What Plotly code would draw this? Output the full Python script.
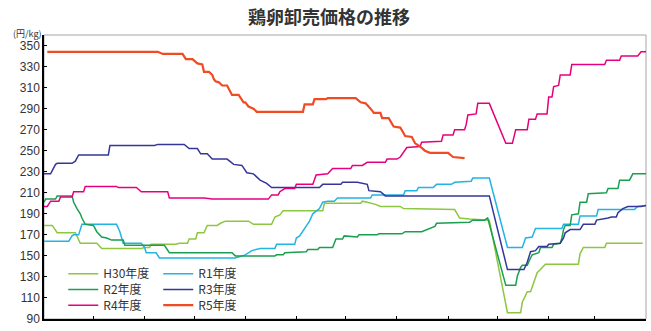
import plotly.graph_objects as go
import numpy as np

title_text = "鶏卵卸売価格の推移"
unit_text = "(円/kg)"
series_names = ["H30年度", "R1年度", "R2年度", "R3年度", "R4年度", "R5年度"]
month_days = [30, 31, 30, 31, 31, 30, 31, 31, 30, 31, 28, 31]  # April .. March
y_ticks = list(range(90, 351, 20))

# day of fiscal year (0 = April 1) / price (yen per kg)
h30_day = [0, 5, 8, 19, 22, 32, 35, 59, 61, 64, 65, 80, 82, 87, 88, 92, 93, 97, 99, 105,
           107, 110, 124, 127, 138, 140, 143, 145, 169, 170, 192, 193, 196, 201, 204, 216, 218, 249, 252, 258,
           270, 281, 289, 290, 293, 295, 297, 299, 301, 304, 324, 325, 327, 340, 341, 363]
h30_yen = [179, 179, 172, 172, 162, 162, 157, 157, 158, 158, 161, 161, 162, 162, 166, 166, 172, 172, 179, 179,
           181, 183, 183, 180, 180, 187, 189, 193, 193, 200, 200, 202, 201, 199, 197, 197, 195, 194, 186, 185,
           184, 96, 96, 106, 116, 116, 125, 134, 137, 142, 142, 152, 158, 158, 162, 162]

r1_day = [0, 15, 17, 18, 21, 23, 44, 46, 48, 59, 61, 62, 68, 70, 116, 118, 122, 126, 129, 131,
          140, 141, 152, 153, 155, 158, 161, 163, 167, 169, 172, 176, 178, 198, 199, 218, 219, 226, 227, 236,
          238, 247, 249, 259, 260, 270, 281, 290, 292, 296, 298, 314, 315, 324, 325, 335, 336, 358, 360, 365]
r1_yen = [164, 164, 169, 170, 170, 180, 180, 173, 162, 162, 158, 153, 153, 148, 148, 149, 151, 155, 156, 157,
          157, 161, 161, 167, 169, 176, 183, 190, 195, 201, 202, 202, 205, 205, 208, 208, 212, 212, 215, 215,
          218, 218, 220, 221, 224, 224, 158, 158, 167, 168, 176, 176, 180, 180, 188, 188, 194, 194, 197, 198]

r2_day = [0, 1, 7, 8, 17, 18, 20, 22, 23, 25, 30, 32, 35, 38, 41, 48, 49, 73, 76, 114,
          116, 140, 141, 145, 146, 159, 160, 166, 167, 175, 177, 181, 182, 190, 191, 202, 203, 217, 219, 229,
          237, 238, 258, 260, 267, 269, 280, 286, 287, 289, 290, 293, 295, 296, 300, 301, 308, 309, 313, 314,
          315, 316, 319, 320, 324, 325, 329, 330, 341, 342, 348, 349, 355, 357, 365]
r2_yen = [201, 204, 204, 207, 207, 201, 195, 190, 186, 180, 179, 173, 168, 167, 165, 165, 160, 160, 153, 153,
          150, 150, 151, 151, 153, 154, 156, 156, 158, 158, 166, 166, 169, 168, 170, 170, 171, 171, 173, 173,
          178, 181, 182, 184, 184, 186, 122, 122, 131, 139, 141, 141, 148, 151, 153, 158, 158, 161, 162, 167,
          175, 179, 179, 189, 190, 201, 201, 209, 210, 214, 214, 222, 222, 228, 228]

r3_day = [0, 4, 5, 7, 8, 17, 19, 21, 39, 40, 67, 69, 85, 88, 93, 95, 99, 102, 111, 115,
          120, 123, 127, 131, 135, 138, 167, 169, 180, 181, 190, 196, 197, 204, 207, 270, 281, 291, 293, 295,
          298, 300, 305, 306, 313, 315, 316, 319, 325, 327, 334, 335, 342, 344, 347, 348, 351, 354, 362, 365]
r3_yen = [228, 228, 231, 237, 238, 238, 240, 246, 246, 255, 255, 256, 256, 252, 252, 247, 247, 242, 242, 237,
          236, 229, 228, 222, 219, 215, 215, 218, 218, 220, 220, 218, 212, 211, 207, 207, 137, 137, 144, 154,
          155, 159, 159, 161, 162, 167, 172, 175, 175, 180, 180, 184, 186, 187, 187, 191, 195, 197, 197, 198]

r4_day = [0, 2, 4, 9, 10, 17, 18, 24, 25, 44, 45, 56, 59, 75, 76, 97, 102, 136, 138, 142,
          143, 145, 146, 152, 153, 163, 165, 172, 175, 186, 187, 193, 196, 207, 208, 214, 216, 220, 228, 229,
          241, 242, 248, 249, 255, 256, 257, 262, 263, 270, 280, 284, 286, 293, 294, 298, 299, 305, 306, 308,
          309, 312, 313, 319, 320, 340, 341, 349, 350, 360, 362, 365]
r4_yen = [197, 197, 202, 202, 206, 206, 211, 211, 216, 216, 215, 215, 211, 211, 205, 205, 204, 204, 208, 208,
          211, 213, 214, 214, 218, 218, 227, 228, 233, 233, 236, 236, 239, 239, 242, 242, 244, 253, 254, 258,
          259, 265, 265, 270, 270, 275, 284, 285, 295, 295, 257, 257, 270, 270, 280, 280, 285, 285, 301, 301,
          311, 312, 322, 322, 332, 332, 336, 336, 340, 340, 344, 344]

r5_day = [2, 69, 72, 84, 86, 90, 93, 96, 97, 100, 102, 103, 104, 106, 108, 111, 114, 118, 121, 122,
          124, 127, 129, 157, 158, 163, 164, 171, 172, 189, 192, 195, 198, 200, 204, 205, 209, 212, 216, 219,
          223, 225, 228, 231, 234, 245, 248, 255]
r5_yen = [344, 344, 342, 342, 337, 337, 333, 332, 325, 325, 322, 318, 316, 315, 312, 312, 303, 303, 296, 296,
          292, 290, 287, 287, 294, 294, 299, 299, 300, 300, 296, 295, 290, 286, 286, 281, 281, 273, 272, 264,
          263, 257, 254, 250, 248, 248, 244, 243]

series_days = [h30_day, r1_day, r2_day, r3_day, r4_day, r5_day]
series_yen = [h30_yen, r1_yen, r2_yen, r3_yen, r4_yen, r5_yen]
colors = ["#8DC63F", "#22B4E3", "#1A9F50", "#34369A", "#E6007E", "#F04B23"]
widths = [1.5, 1.5, 1.5, 1.5, 1.5, 2.2]
legend_ids = ["legend", "legend", "legend2", "legend2", "legend3", "legend3"]

cjk = "Noto Sans CJK JP"
num_font = "Liberation Sans, Arial, Noto Sans CJK JP"

fig = go.Figure()
for name, d, v, c, w, lg in zip(series_names, series_days, series_yen, colors, widths, legend_ids):
    fig.add_trace(go.Scatter(x=d, y=v, mode="lines", name=name,
                             line=dict(color=c, width=w), legend=lg))

month_ticks = list(np.cumsum(month_days)[:-1])

legend_common = dict(orientation="h", xanchor="left", yanchor="middle",
                     entrywidth=50, entrywidthmode="pixels", itemwidth=30,
                     bgcolor="rgba(0,0,0,0)", traceorder="normal",
                     font=dict(family=cjk, size=12, color="#333333"))

fig.update_layout(
    width=651, height=331,
    margin=dict(l=44, r=5, t=35, b=7),
    paper_bgcolor="white", plot_bgcolor="white",
    title=dict(text="<b>" + title_text + "</b>", x=329 / 651, xref="container", xanchor="center",
               y=1 - 18 / 331, yref="container", yanchor="middle",
               font=dict(family=cjk, size=18, color="#333333")),
    xaxis=dict(range=[0, 365], showgrid=False, zeroline=False, showline=True,
               linecolor="black", linewidth=1.5, ticks="inside", ticklen=3, tickwidth=1,
               tickcolor="black", tickvals=month_ticks, showticklabels=False),
    yaxis=dict(range=[90, 360], showgrid=False, zeroline=False, showline=True,
               linecolor="black", linewidth=1.5, ticks="inside", ticklen=3, tickwidth=1,
               tickcolor="black", tickvals=y_ticks, ticklabeloverflow="allow",
               tickfont=dict(family=num_font, size=12, color="#333333")),
    legend=dict(x=0.032, y=0.1595, **legend_common),
    legend2=dict(x=0.032, y=0.1041, **legend_common),
    legend3=dict(x=0.032, y=0.0488, **legend_common),
    shapes=[dict(type="rect", xref="paper", yref="paper", x0=0, x1=1, y0=0, y1=1,
                 line=dict(color="#A6A6A6", width=1), layer="below")],
    annotations=[dict(text=unit_text, xref="paper", yref="paper", x=0, y=1,
                      xanchor="right", yanchor="middle", yshift=2, showarrow=False,
                      font=dict(family=cjk, size=9, color="#333333"))],
)

fig.write_html("out.html")
